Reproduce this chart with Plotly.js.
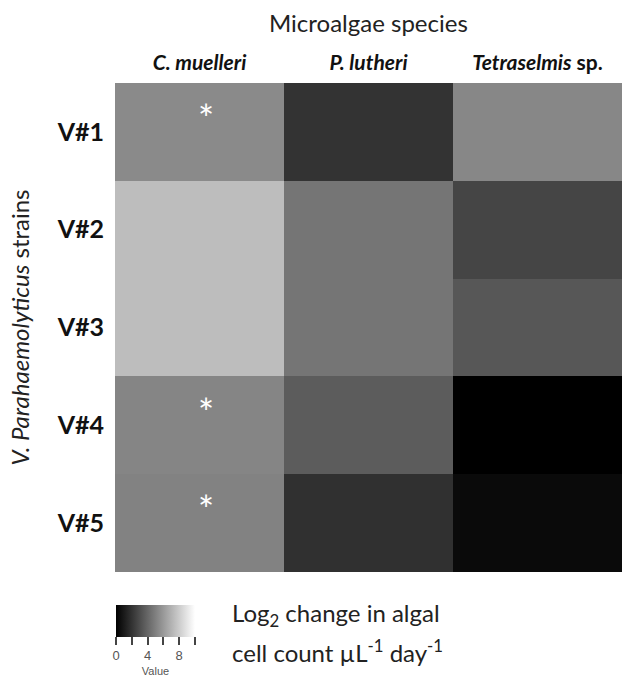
<!DOCTYPE html>
<html>
<head>
<meta charset="utf-8">
<script src="https://cdn.plot.ly/plotly-3.0.1.min.js"></script>
<style>html,body{margin:0;padding:0;background:#fff;}#chart{width:633px;height:682px;}</style>
</head>
<body>
<div id="chart"></div>
<script>
var species = ['C. muelleri', 'P. lutheri', 'Tetraselmis sp.'];
var speciesLabels = ['<b><i>C. muelleri</i></b>', '<b><i>P. lutheri</i></b>', '<b><i>Tetraselmis</i> sp.</b>'];
var strains = ['V#1', 'V#2', 'V#3', 'V#4', 'V#5'];
var cMuelleri = [5.4, 7.4, 7.4, 5.2, 5.1];
var pLutheri = [2.0, 4.6, 4.6, 3.6, 1.9];
var tetraselmis = [5.3, 2.7, 3.4, 0.0, 0.4];
var significant = [
  ['C. muelleri', 'V#1'],
  ['C. muelleri', 'V#4'],
  ['C. muelleri', 'V#5']
];
var cbTickVals = [0, 2, 4, 6, 8, 10];
var cbTickText = ['0', '', '4', '', '8', ''];
var legendLines = ['Log<sub>2</sub> change in algal', 'cell count µL<sup>-1</sup> day<sup>-1</sup>'];

var z = strains.map(function(s, i){ return [cMuelleri[i], pLutheri[i], tetraselmis[i]]; });

var fontFam = 'Lato, "Open Sans", sans-serif';

var trace = {
  type: 'heatmap',
  x: species,
  y: strains,
  z: z,
  zmin: 0, zmax: 10,
  colorscale: [[0, '#000000'], [1, '#ffffff']],
  showscale: true,
  hoverinfo: 'skip',
  colorbar: {
    orientation: 'h',
    x: 0.002, xanchor: 'left',
    y: -0.067, yanchor: 'top',
    lenmode: 'pixels', len: 79,
    thickness: 32,
    xpad: 0, ypad: 0,
    outlinewidth: 0,
    ticks: 'outside', ticklen: 8, tickwidth: 2, tickcolor: '#444',
    tickvals: cbTickVals, ticktext: cbTickText,
    tickfont: {family: 'Arial, sans-serif', size: 13, color: '#555'},
    title: {text: 'Value', side: 'bottom', font: {family: 'Arial, sans-serif', size: 11, color: '#555'}}
  }
};

var annotations = significant.map(function(p){
  return {
    xref: 'x', yref: 'y',
    x: p[0], y: strains.indexOf(p[1]) - 0.14,
    xshift: 6,
    text: '*', showarrow: false,
    font: {family: fontFam, size: 38, color: '#ffffff'}
  };
});
legendLines.forEach(function(t, i){
  annotations.push({
    xref: 'paper', yref: 'paper',
    x: (230 - 115) / 507, y: 0, yshift: -(42 + 37 * i), xanchor: 'left', yanchor: 'middle',
    align: 'left', text: t, showarrow: false,
    font: {family: fontFam, size: 24, color: '#222'}
  });
});
annotations.push({
  xref: 'paper', yref: 'paper',
  x: 0.5, y: 1, yshift: 61, xanchor: 'center', yanchor: 'middle',
  text: 'Microalgae species', showarrow: false,
  font: {family: fontFam, size: 24, color: '#222'}
});

var layout = {
  width: 633, height: 682,
  margin: {l: 115, r: 11, t: 83, b: 110, autoexpand: false},
  paper_bgcolor: '#ffffff', plot_bgcolor: '#ffffff',
  xaxis: {
    side: 'top', type: 'category',
    tickvals: species, ticktext: speciesLabels,
    ticks: '', showgrid: false, zeroline: false, showline: false,
    tickfont: {family: fontFam, size: 21, color: '#111'},
    ticklabelstandoff: 8
  },
  yaxis: {
    type: 'category', autorange: 'reversed',
    tickvals: strains,
    ticktext: strains.map(function(s){ return '<b>' + s + '</b>'; }),
    ticks: '', showgrid: false, zeroline: false, showline: false,
    tickfont: {family: fontFam, size: 25, color: '#111'},
    ticklabelstandoff: 10,
    title: {text: '<i>V. Parahaemolyticus</i> strains', font: {family: fontFam, size: 24, color: '#222'}, standoff: 20}
  },
  annotations: annotations,
  showlegend: false
};

Plotly.newPlot('chart', [trace], layout, {displayModeBar: false, staticPlot: true});
</script>
</body>
</html>
